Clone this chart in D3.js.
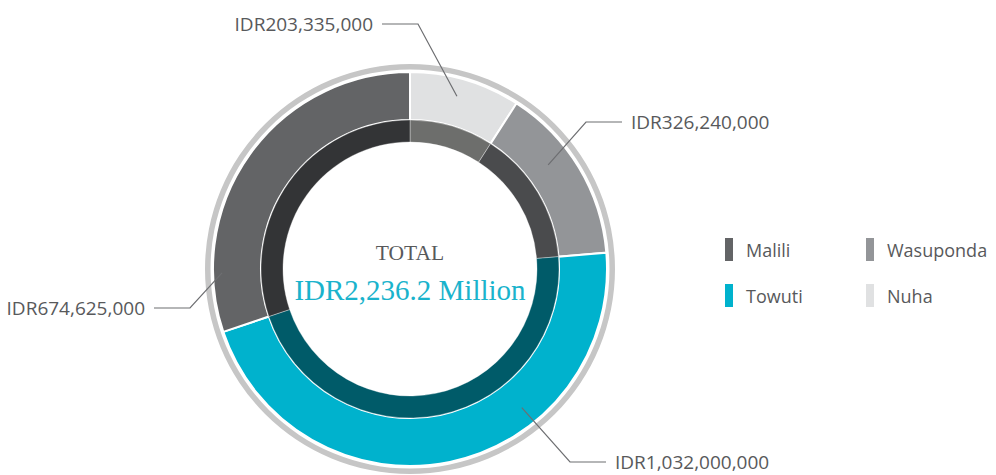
<!DOCTYPE html>
<html>
<head>
<meta charset="utf-8">
<script src="https://cdn.jsdelivr.net/npm/d3@7"></script>
<style>
  html, body { margin: 0; padding: 0; background: #ffffff; }
  svg { display: block; }
</style>
</head>
<body>
<svg id="chart" width="996" height="475"></svg>
<script>
// ---- data ----
const categories = ["Malili", "Wasuponda", "Towuti", "Nuha"];
const values = [674625000, 326240000, 1032000000, 203335000];
const ringOrder = ["Nuha", "Wasuponda", "Towuti", "Malili"];
const outerColors = ["#636466", "#939598", "#00b2cd", "#e0e1e2"];
const innerColors = ["#333436", "#4a4b4d", "#005b69", "#6d6e6c"];
const centerTitle = "TOTAL";
const currency = "IDR";

// label leader anchors (degrees clockwise from top), elbows and sides
const labelAnchorAngle = { Nuha: 15.2, Wasuponda: 53, Towuti: 141.1, Malili: 268.8 };
const labelAnchorRadius = { Nuha: 179, Wasuponda: 173, Towuti: 178, Malili: 188 };
const labelElbow = { Nuha: [8, -245], Wasuponda: [176, -147], Towuti: [160, 193], Malili: [-220, 39] };
const labelSide = { Nuha: -1, Wasuponda: 1, Towuti: 1, Malili: -1 };

// ---- layout ----
const svg = d3.select("#chart");
const cx = 410, cy = 269;
const rGrayOuter = 205, rGrayInner = 199.5;
const rOuter = 197, rMid = 149, rInner = 127;

const colorOuter = d3.scaleOrdinal().domain(categories).range(outerColors);
const colorInner = d3.scaleOrdinal().domain(categories).range(innerColors);
const valueOf = new Map(categories.map((c, i) => [c, values[i]]));
const total = d3.sum(values);

const pie = d3.pie().sort(null).value(d => d.value);
const arcs = pie(ringOrder.map(name => ({ name, value: valueOf.get(name) })));

const g = svg.append("g").attr("transform", `translate(${cx},${cy})`);

// outer gray ring
g.append("path")
  .attr("d", d3.arc().innerRadius(rGrayInner).outerRadius(rGrayOuter)({ startAngle: 0, endAngle: 2 * Math.PI }))
  .attr("fill", "#c6c6c6");

// outer colored ring
const arcOuter = d3.arc().innerRadius(rMid).outerRadius(rOuter);
g.selectAll("path.outer").data(arcs).join("path")
  .attr("class", "outer")
  .attr("d", arcOuter)
  .attr("fill", d => colorOuter(d.data.name))
  .attr("stroke", "#ffffff")
  .attr("stroke-width", 2);

// inner darker ring
const arcInner = d3.arc().innerRadius(rInner).outerRadius(rMid);
g.selectAll("path.inner").data(arcs).join("path")
  .attr("class", "inner")
  .attr("d", arcInner)
  .attr("fill", d => colorInner(d.data.name))
  .attr("stroke", "rgba(255,255,255,0.35)")
  .attr("stroke-width", 1);

// center text
g.append("text")
  .attr("x", 0).attr("y", -9.5)
  .attr("text-anchor", "middle")
  .attr("font-family", "'Liberation Serif', serif")
  .attr("font-size", 21.5)
  .attr("fill", "#58595b")
  .text(centerTitle);
g.append("text")
  .attr("x", 0).attr("y", 31)
  .attr("text-anchor", "middle")
  .attr("font-family", "'Liberation Serif', serif")
  .attr("font-size", 29)
  .attr("fill", "#1ab3cc")
  .text(currency + d3.format(",.1f")(total / 1e6) + " Million");

// leader lines + labels
const fmt = d3.format(",");
const polar = (deg, r) => [r * Math.sin(deg * Math.PI / 180), -r * Math.cos(deg * Math.PI / 180)];
arcs.forEach(d => {
  const name = d.data.name;
  const a = polar(labelAnchorAngle[name], labelAnchorRadius[name]);
  const e = labelElbow[name];
  const s = labelSide[name];
  const end = [e[0] + s * 36, e[1]];
  g.append("path")
    .attr("d", d3.line()([a, e, end]))
    .attr("fill", "none")
    .attr("stroke", "#6d6e71")
    .attr("stroke-width", 1.2);
  g.append("text")
    .attr("x", end[0] + s * 9)
    .attr("y", end[1] + 7)
    .attr("text-anchor", s > 0 ? "start" : "end")
    .attr("font-family", "'Open Sans', sans-serif")
    .attr("font-size", 19)
    .attr("fill", "#58595b")
    .text(currency + fmt(d.data.value));
});

// legend
const legend = svg.append("g");
const legX = d3.scalePoint().domain([0, 1]).range([725, 866]);
const legY = d3.scalePoint().domain([0, 1]).range([238, 284]);
categories.forEach((c, i) => {
  const col = i % 2, row = Math.floor(i / 2);
  const x = legX(col), y = legY(row);
  legend.append("rect")
    .attr("x", x).attr("y", y).attr("width", 8).attr("height", 23)
    .attr("fill", colorOuter(c));
  legend.append("text")
    .attr("x", x + 21).attr("y", y + 18.5)
    .attr("font-family", "'Open Sans', sans-serif")
    .attr("font-size", 18)
    .attr("fill", "#58595b")
    .text(c);
});
</script>
</body>
</html>
